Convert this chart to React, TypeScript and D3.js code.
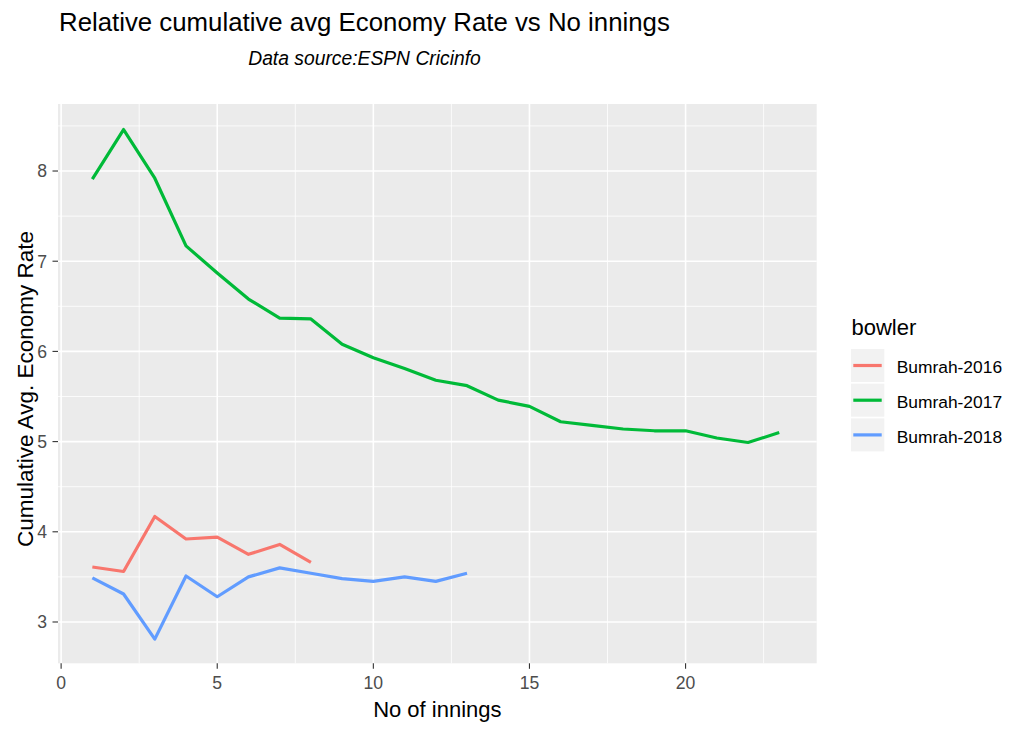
import React from "react";
import * as d3 from "d3";

const innings2016 = [1, 2, 3, 4, 5, 6, 7, 8];
const econ2016 = [3.61, 3.56, 4.17, 3.92, 3.94, 3.75, 3.86, 3.66];

const innings2017 = [1, 2, 3, 4, 5, 6, 7, 8, 9, 10, 11, 12, 13, 14, 15, 16, 17, 18, 19, 20, 21, 22, 23];
const econ2017 = [7.91, 8.46, 7.92, 7.17, 6.87, 6.58, 6.37, 6.36, 6.08, 5.93, 5.81, 5.68, 5.62, 5.46, 5.39, 5.22, 5.18, 5.14, 5.12, 5.12, 5.04, 4.99, 5.1];

const innings2018 = [1, 2, 3, 4, 5, 6, 7, 8, 9, 10, 11, 12, 13];
const econ2018 = [3.49, 3.31, 2.81, 3.51, 3.28, 3.5, 3.6, 3.54, 3.48, 3.45, 3.5, 3.45, 3.54];

const seriesNames = ["Bumrah-2016", "Bumrah-2017", "Bumrah-2018"];
const seriesColors = ["#F8766D", "#00BA38", "#619CFF"];
const xTicks = [0, 5, 10, 15, 20];
const xMinor = [2.5, 7.5, 12.5, 17.5, 22.5];
const yTicks = [3, 4, 5, 6, 7, 8];
const yMinor = [3.5, 4.5, 5.5, 6.5, 7.5, 8.5];

const FONT = "'Liberation Sans', Arial, sans-serif";

export default function App() {
  const W = 1024, H = 731;
  const left = 58, right = 816.7, top = 104, bottom = 663.3;
  const x = d3.scaleLinear().domain([-0.1, 24.2]).range([left, right]);
  const y = d3.scaleLinear().domain([2.542, 8.743]).range([bottom, top]);

  const series = [
    { name: seriesNames[0], color: seriesColors[0], xs: innings2016, ys: econ2016 },
    { name: seriesNames[1], color: seriesColors[1], xs: innings2017, ys: econ2017 },
    { name: seriesNames[2], color: seriesColors[2], xs: innings2018, ys: econ2018 },
  ];
  const line = d3.line<[number, number]>().x((d) => x(d[0])).y((d) => y(d[1]));

  return (
    <svg width={W} height={H} style={{ position: "absolute", left: 0, top: 0, background: "#fff" }} fontFamily={FONT}>
      <rect x={0} y={0} width={W} height={H} fill="#fff" />
      <text x={59} y={31} fontSize={25.8} fill="#000">Relative cumulative avg Economy Rate vs No innings</text>
      <text x={364.5} y={65} fontSize={19.3} fontStyle="italic" textAnchor="middle" fill="#000">Data source:ESPN Cricinfo</text>

      <rect x={left} y={top} width={right - left} height={bottom - top} fill="#EBEBEB" />
      {xMinor.map((v) => (
        <line key={"xm" + v} x1={x(v)} x2={x(v)} y1={top} y2={bottom} stroke="#fff" strokeWidth={0.8} />
      ))}
      {yMinor.map((v) => (
        <line key={"ym" + v} x1={left} x2={right} y1={y(v)} y2={y(v)} stroke="#fff" strokeWidth={0.8} />
      ))}
      {xTicks.map((v) => (
        <line key={"xM" + v} x1={x(v)} x2={x(v)} y1={top} y2={bottom} stroke="#fff" strokeWidth={1.6} />
      ))}
      {yTicks.map((v) => (
        <line key={"yM" + v} x1={left} x2={right} y1={y(v)} y2={y(v)} stroke="#fff" strokeWidth={1.6} />
      ))}

      {series.map((s) => (
        <path
          key={s.name}
          d={line(s.xs.map((v, i) => [v, s.ys[i]] as [number, number])) || ""}
          fill="none"
          stroke={s.color}
          strokeWidth={3.2}
          strokeLinejoin="round"
        />
      ))}

      {xTicks.map((v) => (
        <g key={"xt" + v}>
          <line x1={x(v)} x2={x(v)} y1={bottom} y2={bottom + 5.5} stroke="#333" strokeWidth={1.1} />
          <text x={x(v)} y={689} fontSize={17.6} fill="#4D4D4D" textAnchor="middle">{v}</text>
        </g>
      ))}
      {yTicks.map((v) => (
        <g key={"yt" + v}>
          <line x1={left - 5.5} x2={left} y1={y(v)} y2={y(v)} stroke="#333" strokeWidth={1.1} />
          <text x={47} y={y(v) + 6.3} fontSize={17.6} fill="#4D4D4D" textAnchor="end">{v}</text>
        </g>
      ))}

      <text x={(left + right) / 2} y={716.5} fontSize={22} textAnchor="middle" fill="#000">No of innings</text>
      <text transform={`translate(33,389) rotate(-90)`} fontSize={22.5} textAnchor="middle" fill="#000">Cumulative Avg. Economy Rate</text>

      <text x={851.5} y={335} fontSize={22} fill="#000">bowler</text>
      {series.map((s, i) => {
        const ky = 349 + i * 34.7;
        return (
          <g key={"lg" + s.name}>
            <rect x={851} y={ky} width={33.3} height={33} fill="#F2F2F2" />
            <line x1={853.3} x2={881.7} y1={ky + 16.5} y2={ky + 16.5} stroke={s.color} strokeWidth={3.2} />
            <text x={896.7} y={ky + 24.3} fontSize={17.4} fill="#000">{s.name}</text>
          </g>
        );
      })}
    </svg>
  );
}
